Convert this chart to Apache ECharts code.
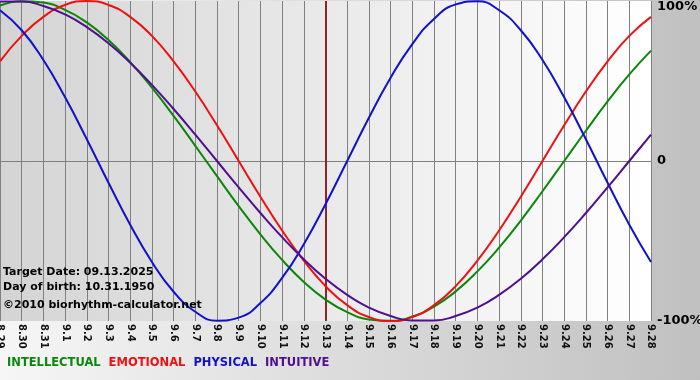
<!DOCTYPE html>
<html>
<head>
<meta charset="utf-8">
<script src="https://cdn.jsdelivr.net/npm/echarts@6/dist/echarts.min.js"></script>
<style>
html,body{margin:0;padding:0;}
#chart{width:700px;height:380px;}
</style>
</head>
<body>
<div id="chart"></div>
<script>
var dates = ['8.29','8.30','8.31','9.1','9.2','9.3','9.4','9.5','9.6','9.7','9.8','9.9','9.10','9.11','9.12','9.13','9.14','9.15','9.16','9.17','9.18','9.19','9.20','9.21','9.22','9.23','9.24','9.25','9.26','9.27','9.28'];
var intellectual = [0.972,0.999,0.990,0.945,0.866,0.756,0.618,0.458,0.282,0.095,-0.095,-0.282,-0.458,-0.618,-0.756,-0.866,-0.945,-0.990,-0.999,-0.972,-0.910,-0.815,-0.690,-0.541,-0.372,-0.189,0.000,0.189,0.372,0.541,0.690];
var emotional = [0.623,0.782,0.901,0.975,1.000,0.975,0.901,0.782,0.623,0.434,0.223,0.000,-0.223,-0.434,-0.623,-0.782,-0.901,-0.975,-1.000,-0.975,-0.901,-0.782,-0.623,-0.434,-0.223,0.000,0.223,0.434,0.623,0.782,0.901];
var physical = [0.942,0.817,0.631,0.398,0.136,-0.136,-0.398,-0.631,-0.817,-0.942,-0.998,-0.979,-0.888,-0.731,-0.520,-0.270,0.000,0.270,0.520,0.731,0.888,0.979,0.998,0.942,0.817,0.631,0.398,0.136,-0.136,-0.398,-0.631];
var intuitive = [0.997,0.997,0.969,0.916,0.837,0.736,0.614,0.476,0.325,0.165,0.000,-0.165,-0.325,-0.476,-0.614,-0.736,-0.837,-0.916,-0.969,-0.997,-0.997,-0.969,-0.916,-0.837,-0.736,-0.614,-0.476,-0.325,-0.165,0.000,0.165];
var seriesNames = ['INTELLECTUAL','EMOTIONAL','PHYSICAL','INTUITIVE'];
var seriesColors = ['#0a870a','#ee1111','#1111cc','#4f0f8f'];
var yTicks = {'1':'100%','0':'0','-1':'-100%'};
var targetDate = '9.13';
var infoLines = ['Target Date: 09.13.2025','Day of birth: 10.31.1950','\u00a92010 biorhythm-calculator.net'];

var chart = echarts.init(document.getElementById('chart'));
var allData = [intellectual, emotional, physical, intuitive];
var series = allData.map(function(d, i){
  var s = {
    name: seriesNames[i], type: 'line', data: d, smooth: true, showSymbol: false, symbol: 'none',
    lineStyle: {color: seriesColors[i], width: 2}, itemStyle: {color: seriesColors[i]},
    animation: false, z: 3 + i
  };
  if (i === 0) {
    s.markLine = {silent: true, symbol: 'none', label: {show: false},
      lineStyle: {color: '#8e2626', width: 2, type: 'solid'},
      data: [{xAxis: targetDate}], z: 2};
  }
  return s;
});
var font = 'DejaVu Sans';
chart.setOption({
  animation: false,
  backgroundColor: new echarts.graphic.LinearGradient(0,0,1,0,[{offset:0,color:'#f6f6f6'},{offset:1,color:'#c0c0c0'}]),
  grid: {left: 0, right: 49, top: 1, bottom: 59, show: true, borderWidth: 0, containLabel: false, outerBoundsMode: 'none',
    backgroundColor: new echarts.graphic.LinearGradient(0,0,1,0,[{offset:0,color:'#d4d4d4'},{offset:1,color:'#ffffff'}])},
  xAxis: {type: 'category', data: dates, boundaryGap: false,
    axisLine: {lineStyle: {color: '#808080', width: 1}},
    axisTick: {show: false},
    axisLabel: {rotate: -90, interval: 0, margin: 3, color: '#111', fontFamily: font, fontSize: 10, fontWeight: 'bold'},
    splitLine: {show: true, interval: 0, lineStyle: {color: '#808080', width: 1}}
  },
  yAxis: {type: 'value', position: 'right', min: -1, max: 1, interval: 1,
    axisLine: {show: false}, axisTick: {show: false},
    axisLabel: {margin: 6, color: '#000', fontFamily: font, fontSize: 13, fontWeight: 'bold',
      formatter: function(v){ return v === 1 ? '{t|' + yTicks['1'] + '}' : yTicks[String(v)]; },
      rich: {t: {fontFamily: font, fontSize: 13, fontWeight: 'bold', color: '#000', padding: [12,0,0,0]}}},
    splitLine: {show: true, lineStyle: {color: ['transparent','#808080','transparent'], width: 1}}
  },
  legend: {left: 2, bottom: 11, padding: 0, itemWidth: 0, itemHeight: 0, itemGap: 3, icon: 'rect', selectedMode: false,
    itemStyle: {opacity: 0}, lineStyle: {opacity: 0},
    textStyle: {fontFamily: font, fontSize: 11.5, fontWeight: 'bold'},
    data: seriesNames.map(function(n, i){ return {name: n, textStyle: {color: seriesColors[i]}}; })
  },
  graphic: infoLines.map(function(t, i){
    return {type: 'text', left: 3, top: [267, 282, 300][i], z: 100,
      style: {text: t, fill: '#000', font: 'bold 11px "DejaVu Sans"'}};
  }),
  series: series
});
</script>
</body>
</html>
